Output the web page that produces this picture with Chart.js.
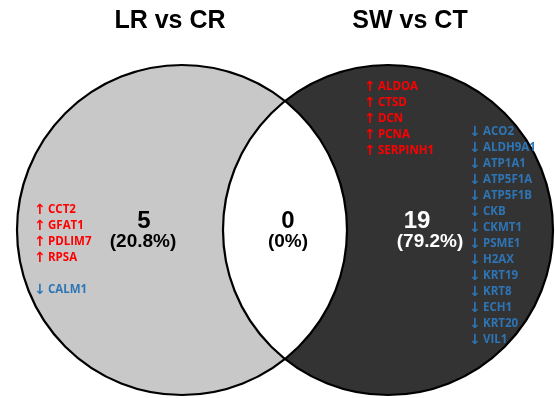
<!DOCTYPE html>
<html>
<head>
<meta charset="utf-8">
<script src="https://cdn.jsdelivr.net/npm/chart.js@4"></script>
<style>
  html, body { margin: 0; padding: 0; background: #ffffff; }
  #wrap { width: 555px; height: 398px; position: relative; }
</style>
</head>
<body>
<div id="wrap"><canvas id="c"></canvas></div>
<script>
// ---- data ----
const setNames = ['LR vs CR', 'SW vs CT'];
const regionCounts = [5, 0, 19];            // LR only, shared, SW only
const regionPercents = ['20.8%', '0%', '79.2%'];
const lrUp = ['CCT2', 'GFAT1', 'PDLIM7', 'RPSA'];
const lrDown = ['CALM1'];
const swUp = ['ALDOA', 'CTSD', 'DCN', 'PCNA', 'SERPINH1'];
const swDown = ['ACO2', 'ALDH9A1', 'ATP1A1', 'ATP5F1A', 'ATP5F1B', 'CKB', 'CKMT1',
                'PSME1', 'H2AX', 'KRT19', 'KRT8', 'ECH1', 'KRT20', 'VIL1'];

// ---- layout (data units on a 555 x 398 plane) ----
const circleX = [182, 388];
const circleY = [230, 230];
const circleR = 165;
const fills = ['#c8c8c8', '#333333'];
const RED = '#ff0000';
const BLUE = '#2e75b6';

const vennPlugin = {
  id: 'venn',
  afterDatasetsDraw(chart) {
    const ctx = chart.ctx;
    const xs = chart.scales.x, ys = chart.scales.y;
    const px = v => xs.getPixelForValue(v);
    const py = v => ys.getPixelForValue(v);
    const els = chart.getDatasetMeta(0).data;
    const circ = els.map((e, i) => ({
      x: e.x, y: e.y,
      rx: px(circleX[i] + circleR) - px(circleX[i]),
      ry: py(circleY[i] + circleR) - py(circleY[i])
    }));
    const path = c => { ctx.beginPath(); ctx.ellipse(c.x, c.y, Math.abs(c.rx), Math.abs(c.ry), 0, 0, Math.PI * 2); };

    ctx.save();
    ctx.fillStyle = '#ffffff';
    ctx.fillRect(0, 0, chart.width, chart.height);
    circ.forEach((c, i) => { path(c); ctx.fillStyle = fills[i]; ctx.fill(); });
    // intersection in white
    ctx.save();
    path(circ[0]);
    ctx.clip();
    path(circ[1]);
    ctx.fillStyle = '#ffffff';
    ctx.fill();
    ctx.restore();
    // outlines
    ctx.lineWidth = 2.2;
    ctx.strokeStyle = '#000000';
    circ.forEach(c => { path(c); ctx.stroke(); });

    ctx.textBaseline = 'middle';
    // titles
    ctx.textAlign = 'center';
    ctx.fillStyle = '#000000';
    ctx.font = "bold 25px 'Liberation Sans', Arial, sans-serif";
    ctx.fillText(setNames[0], px(170), py(21));
    ctx.fillText(setNames[1], px(410), py(21));

    // counts
    const numX = [143, 288, 430];
    const cntX = [144, 288, 417];
    const numCol = ['#000000', '#000000', '#ffffff'];
    for (let i = 0; i < 3; i++) {
      ctx.fillStyle = numCol[i];
      ctx.font = "bold 24px 'Liberation Sans', Arial, sans-serif";
      ctx.fillText(String(regionCounts[i]), px(cntX[i]), py(221));
      ctx.font = "bold 19px 'Liberation Sans', Arial, sans-serif";
      ctx.fillText('(' + regionPercents[i] + ')', px(numX[i]), py(242));
    }

    // gene lists
    ctx.textAlign = 'left';
    const drawList = (genes, up, x0, y0, color) => {
      genes.forEach((g, k) => {
        ctx.fillStyle = color;
        ctx.font = "bold 14px 'DejaVu Sans', sans-serif";
        ctx.fillText(up ? '\u2191' : '\u2193', px(x0 - 2), py(y0 + k * 16));
        ctx.font = "bold 11.5px 'Open Sans', 'DejaVu Sans', sans-serif";
        ctx.fillText(g, px(x0 + 12), py(y0 + k * 16));
      });
    };
    drawList(lrUp, true, 36, 210, RED);
    drawList(lrDown, false, 36, 290, BLUE);
    drawList(swUp, true, 366, 87, RED);
    drawList(swDown, false, 471, 132, BLUE);
    ctx.restore();
  }
};

new Chart(document.getElementById('c'), {
  type: 'scatter',
  data: {
    datasets: [{
      data: circleX.map((x, i) => ({ x: x, y: circleY[i] })),
      pointRadius: 0,
      pointBorderWidth: 0,
      pointHoverRadius: 0,
      borderWidth: 0,
      clip: false
    }]
  },
  options: {
    responsive: true,
    maintainAspectRatio: false,
    animation: false,
    events: [],
    layout: { padding: 0 },
    plugins: { legend: { display: false }, tooltip: { enabled: false } },
    scales: {
      x: { type: 'linear', min: 0, max: 555, display: false },
      y: { type: 'linear', min: 0, max: 398, reverse: true, display: false }
    }
  },
  plugins: [vennPlugin]
});
</script>
</body>
</html>
